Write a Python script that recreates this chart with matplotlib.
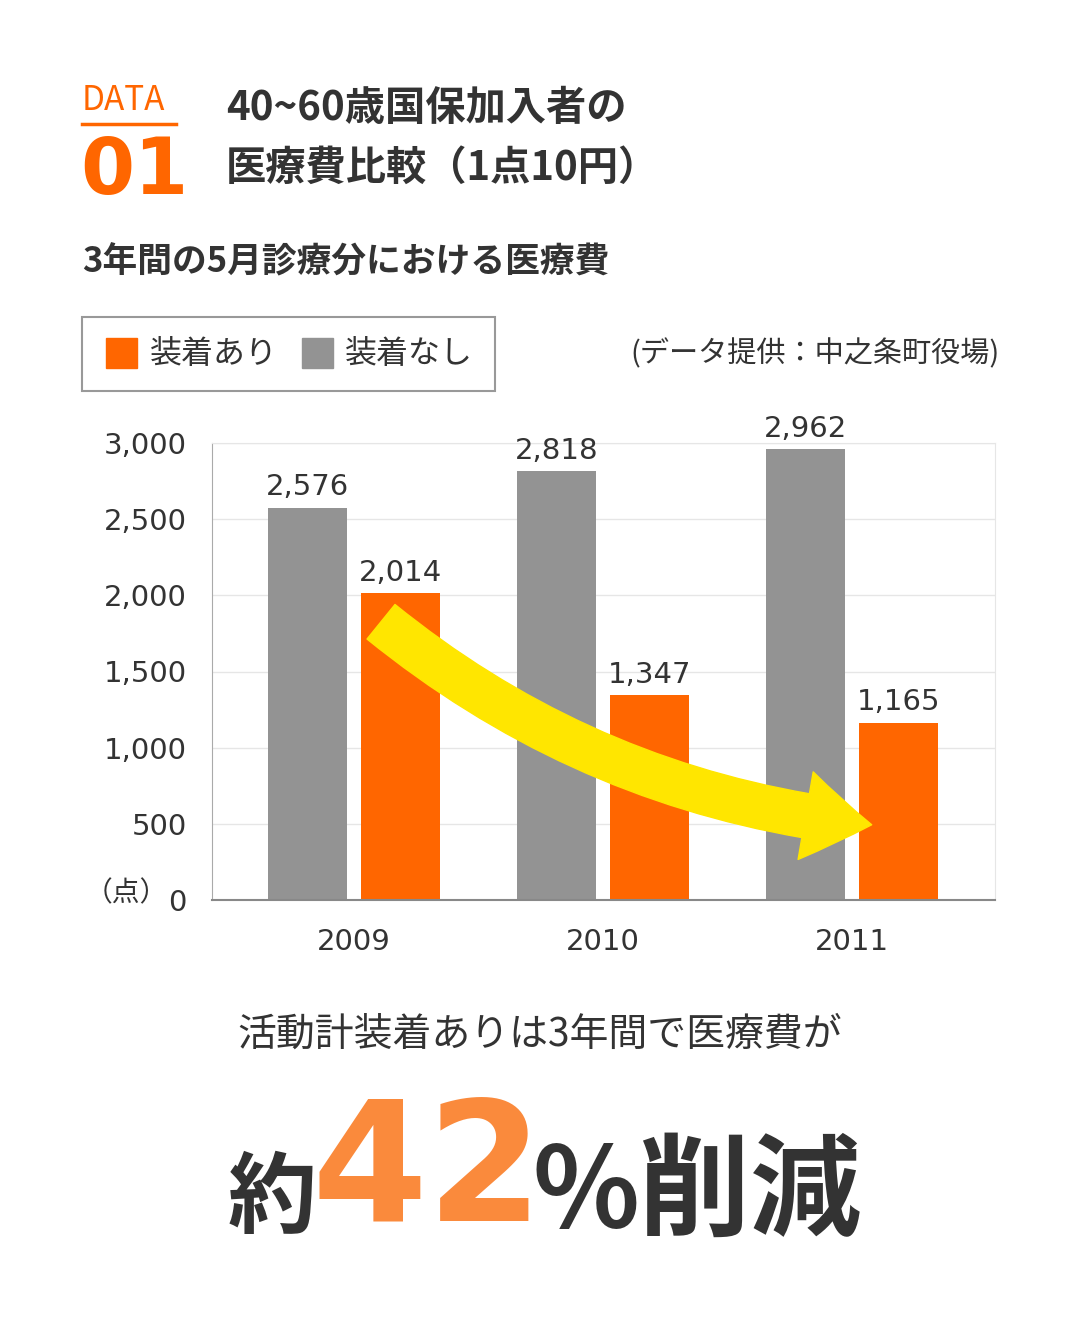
import matplotlib
matplotlib.use("Agg")
import matplotlib.pyplot as plt
from matplotlib.patches import FancyArrowPatch, Rectangle

plt.rcParams["font.family"] = "Noto Sans CJK JP"

years = ["2009", "2010", "2011"]
with_device = [2014, 1347, 1165]
without_device = [2576, 2818, 2962]
yticks = [0, 500, 1000, 1500, 2000, 2500, 3000]

ORANGE = "#ff6600"
GRAY = "#939393"
DARK = "#333333"

fig = plt.figure(figsize=(10.8, 13.44), dpi=100)
ax = fig.add_axes([212/1080, 1-900/1344, 783/1080, 457/1344])
x = list(range(len(years)))
w = 0.32
off = 0.187
b1 = ax.bar([i - off for i in x], without_device, w, color=GRAY, zorder=2)
b2 = ax.bar([i + off for i in x], with_device, w, color=ORANGE, zorder=2)
for b, v in zip(list(b1) + list(b2), without_device + with_device):
    ax.text(b.get_x() + b.get_width()/2, v + 40, f"{v:,}", ha="center", va="bottom",
            fontsize=21, color=DARK, family="DejaVu Sans", zorder=3)
ax.set_xlim(-0.570, 2.574)
ax.set_ylim(0, 3000)
ax.set_yticks(yticks)
ax.set_yticklabels([f"{t:,}" for t in yticks], fontsize=21, color=DARK, family="DejaVu Sans")
ax.set_xticks(x)
ax.set_xticklabels(years, fontsize=21, color=DARK, family="DejaVu Sans")
ax.tick_params(length=0, pad=18)
ax.tick_params(axis="x", pad=20)
ax.grid(axis="y", color="#e6e6e6", lw=1, zorder=0)
for s in ["top", "right"]:
    ax.spines[s].set_color("#e6e6e6")
ax.spines["left"].set_color("#aaaaaa")
ax.spines["bottom"].set_color("#888888")
ax.spines["bottom"].set_linewidth(1.5)

arr = FancyArrowPatch((0.10, 1838), (2.09, 492), connectionstyle="arc3,rad=0.15",
                      arrowstyle="simple,head_width=3.2,head_length=2.4,tail_width=1.6",
                      mutation_scale=20, color="#ffe600", zorder=4)
ax.add_patch(arr)

fig.text(85/1080, 1-893/1344, "（点）", fontsize=20, color=DARK, va="center")

# header
fig.text(82/1080, 1-100/1344, "DATA", fontsize=24, color=ORANGE, va="center")
fig.add_artist(plt.Line2D([82/1080, 176/1080], [1-124/1344]*2, color=ORANGE, lw=2.5))
fig.text(80/1080, 1-172/1344, "01", fontsize=56, color=ORANGE, va="center", weight="bold", family="DejaVu Sans")
fig.text(226/1080, 1-108/1344, "40~60歳国保加入者の", fontsize=29, color=DARK, va="center", weight="bold")
fig.text(226/1080, 1-168/1344, "医療費比較（1点10円）", fontsize=29, color=DARK, va="center", weight="bold")
fig.text(82/1080, 1-262/1344, "3年間の5月診療分における医療費", fontsize=25, color=DARK, va="center", weight="bold")

# legend
fig.add_artist(Rectangle((82/1080, 1-391/1344), 413/1080, 74/1344, transform=fig.transFigure,
                         fill=False, ec="#999999", lw=1.5))
fig.add_artist(Rectangle((106/1080, 1-368/1344), 31/1080, 30/1344, transform=fig.transFigure, color=ORANGE))
fig.text(150/1080, 1-354/1344, "装着あり", fontsize=23, color=DARK, va="center")
fig.add_artist(Rectangle((302/1080, 1-368/1344), 31/1080, 30/1344, transform=fig.transFigure, color=GRAY))
fig.text(345/1080, 1-354/1344, "装着なし", fontsize=23, color=DARK, va="center")
fig.text(1000/1080, 1-354/1344, "(データ提供：中之条町役場)", fontsize=21, color=DARK, va="center", ha="right")

fig.text(540/1080, 1-1035/1344, "活動計装着ありは3年間で医療費が", fontsize=28, color=DARK, va="center", ha="center")
fig.text(228/1080, 1-1200/1344, "約", fontsize=64, color=DARK, va="center", weight="bold")
fig.text(312/1080, 1-1175/1344, "42", fontsize=120, color="#fa8a3c", va="center", weight="bold", family="DejaVu Sans")
fig.text(532/1080, 1-1195/1344, "%削減", fontsize=80, color=DARK, va="center", weight="bold")

fig.savefig("out.png", dpi=100, facecolor="white")
